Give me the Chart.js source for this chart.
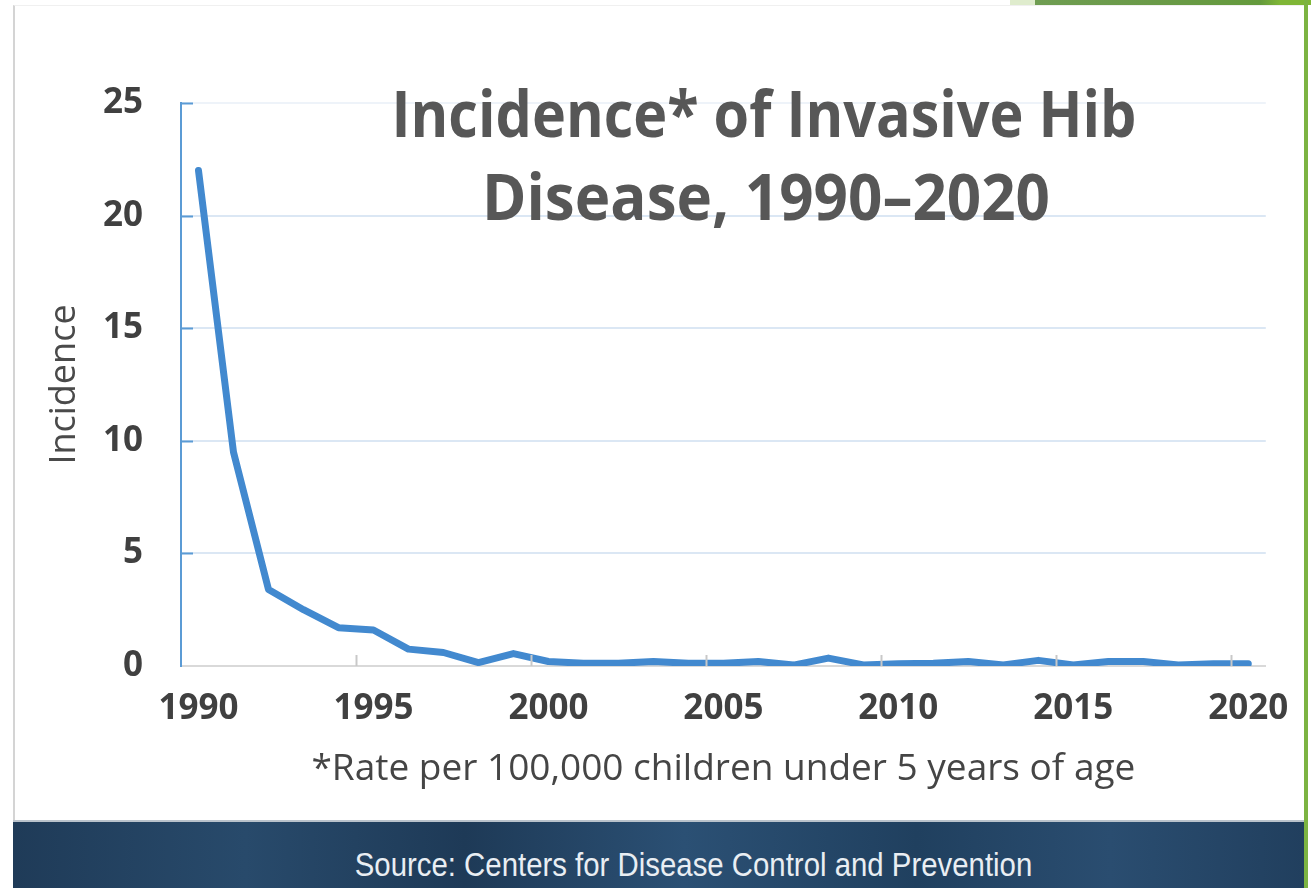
<!doctype html>
<html lang="en">
  <head>
    <meta charset="utf-8">
    <title>Invasive Hib Disease</title>
    <script src="https://cdn.jsdelivr.net/npm/chart.js@4.4.1/dist/chart.umd.min.js"></script>
    <style>
      html, body { margin: 0; padding: 0; background: #fff; }
      body { width: 1311px; height: 888px; position: relative; overflow: hidden; font-family: "Open Sans", sans-serif; }
      .panel { position: absolute; left: 13px; top: 5px; width: 1290px; height: 815px; border-left: 2px solid #d4d4d4; border-top: 1px solid #f0f0f0; }
      .greenTop { position: absolute; left: 1010px; top: 0; width: 301px; height: 5px;
        background: linear-gradient(90deg, #dfeccd 0, #dfeccd 25px, #6f9d52 25px, #6a9a48 140px, #649a3c 250px, #7fb636 270px); }
      .greenSide { position: absolute; left: 1304px; top: 0; width: 4px; height: 888px; background: #7cb342; }
      .banner { position: absolute; left: 13px; top: 820px; width: 1291px; height: 68px; border-top: 2px solid #b9c2cb;
        background: linear-gradient(90deg, #1f3b58 0%, #284a6b 18%, #1e3a57 35%, #2b5074 52%, #20405f 70%, #2a4d70 85%, #213f5e 100%); }
      .banner span { position: absolute; left: 70px; right: 0; top: 24px; text-align: center; color: #e9eef3;
        font-family: "Liberation Sans", sans-serif; font-size: 33px; transform: scaleX(0.89); transform-origin: 50% 50%; }
      #MiGrafica { position: absolute; left: 0; top: 0; }
    </style>
  </head>
  <body>
    <div class="panel"></div>
    <div class="greenTop"></div>
    <div class="greenSide"></div>
    <div class="banner"><span>Source: Centers for Disease Control and Prevention</span></div>
    <canvas id="MiGrafica" width="1311" height="888"></canvas>

  <script>

    // anos y valores (tasa por 100,000 menores de 5)
    let anos = ["1990","1991","1992","1993","1994","1995","1996","1997","1998","1999",
                "2000","2001","2002","2003","2004","2005","2006","2007","2008","2009",
                "2010","2011","2012","2013","2014","2015","2016","2017","2018","2019","2020"];
    let incidencia = [22.0, 9.5, 3.4, 2.5, 1.7, 1.6, 0.75, 0.6, 0.15, 0.55,
                      0.2, 0.12, 0.12, 0.2, 0.12, 0.12, 0.2, 0.04, 0.35, 0.05,
                      0.1, 0.12, 0.2, 0.05, 0.25, 0.05, 0.2, 0.2, 0.05, 0.1, 0.1];
    let ticksY = [0, 5, 10, 15, 20, 25];
    let cadaX = 5;

    let titulo = ["Incidence* of Invasive Hib", "Disease, 1990\u20132020"];

    const azul = "#4289cf";
    const textoEje = "#404040";

    // marcas pequenas hacia adentro del area (como en Excel)
    const marcasDentro = {
      id: "marcasDentro",
      afterDatasetsDraw(chart){
        const ctx = chart.ctx;
        const x = chart.scales.x, y = chart.scales.y;
        const area = chart.chartArea;
        ctx.save();
        ctx.lineWidth = 2;
        ctx.strokeStyle = "#5b9bd5";
        ticksY.forEach(v => {
          if (v === 0) return;
          let py = Math.round(y.getPixelForValue(v)) + 0.5;
          ctx.beginPath(); ctx.moveTo(area.left, py); ctx.lineTo(area.left + 12, py); ctx.stroke();
        });
        ctx.strokeStyle = "#c8c8c8";
        let medio = (x.getPixelForValue(1) - x.getPixelForValue(0)) / 2;
        for (let i = cadaX; i < anos.length; i += cadaX) {
          let px = Math.round(x.getPixelForValue(i) - medio) + 0.5;
          ctx.beginPath(); ctx.moveTo(px, area.bottom); ctx.lineTo(px, area.bottom - 11); ctx.stroke();
        }
        ctx.restore();
      }
    };

    // titulo grande dentro del grafico
    const tituloDentro = {
      id: "tituloDentro",
      afterDraw(chart){
        const ctx = chart.ctx;
        ctx.save();
        ctx.fillStyle = "#575757";
        ctx.font = "bold 64px 'Open Sans'";
        ctx.textAlign = "center";
        ctx.textBaseline = "alphabetic";
        ctx.fillText(titulo[0], 764, 137, 745);
        ctx.fillText(titulo[1], 766, 220, 568);
        ctx.restore();
      }
    };

    let canvas = document.getElementById("MiGrafica").getContext("2d");

    var chart = new Chart(canvas, {
      type: "line",
      data: {
        labels: anos,
        datasets: [{
          label: "Incidence",
          data: incidencia,
          borderColor: azul,
          backgroundColor: azul,
          borderWidth: 7,
          pointRadius: 0,
          tension: 0,
          borderCapStyle: "round",
          borderJoinStyle: "round"
        }]
      },
      options: {
        responsive: false,
        animation: false,
        devicePixelRatio: 1,
        layout: { padding: { top: 103, right: 43, left: 40, bottom: 92 } },
        plugins: { legend: { display: false }, tooltip: { enabled: false } },
        scales: {
          x: {
            offset: true,
            afterFit(scale){ scale.height = 130; },
            grid: { display: false, drawTicks: false },
            border: { display: true, color: "#d9d9d9", width: 2 },
            ticks: {
              autoSkip: false, maxRotation: 0, padding: 22,
              color: textoEje, font: { family: "Open Sans", size: 35, weight: "bold" },
              callback: function(val, i){ return (i % cadaX === 0) ? anos[i] : ""; }
            },
            title: {
              display: true, text: "*Rate per 100,000 children under 5 years of age",
              color: "#454545", font: { family: "Open Sans", size: 37 },
              padding: { top: 0, bottom: 4 }
            }
          },
          y: {
            min: 0, max: 25,
            afterFit(scale){ scale.width = 141; },
            afterBuildTicks(scale){ scale.ticks = ticksY.map(v => ({ value: v })); },
            grid: {
              drawTicks: false, lineWidth: 2,
              color: c => c.tick.value === 0 ? "rgba(0,0,0,0)" : (c.tick.value === 25 ? "#eef3f9" : "#dbe7f4")
            },
            border: { display: true, color: "#5b9bd5", width: 2 },
            ticks: {
              padding: 38,
              color: textoEje, font: { family: "Open Sans", size: 35, weight: "bold" }
            },
            title: {
              display: true, text: "Incidence",
              color: "#4a4a4a", font: { family: "Open Sans", size: 36 },
              padding: { top: 3, bottom: 0 }
            }
          }
        }
      },
      plugins: [marcasDentro, tituloDentro]
    });

  </script>
  </body>
</html>
